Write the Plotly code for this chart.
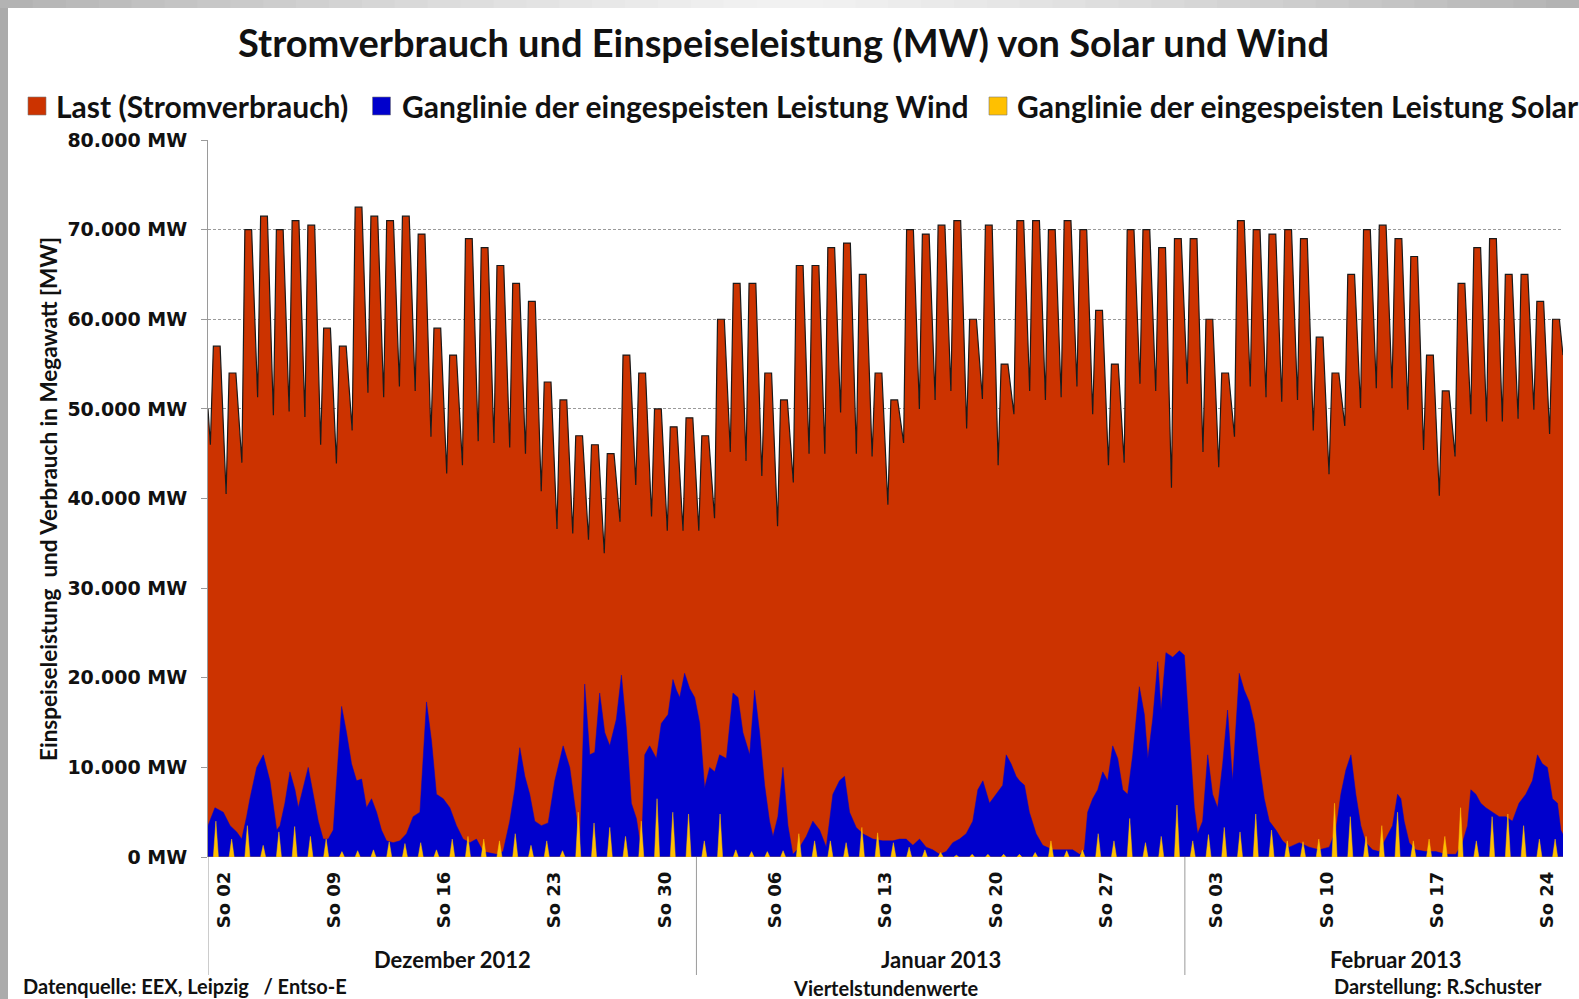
import plotly.graph_objects as go

# ---------------- data ----------------
# day index 0 = Sat 01.12.2012 00:00 ; plot runs to day 86 (25.02.2013 00:00)
load_start_mw = 50000
load_end_mw = 56000
# nightly minimum (approx. 03:30) per day
load_trough_mw = [
    46000, 40500, 44000, 51300, 49300, 49700, 49100, 46000, 43900, 47600,
    51800, 51300, 52500, 52000, 46900, 42800, 43700, 46400, 46200, 45700,
    45000, 40800, 36600, 36100, 35400, 33900, 37400, 41500, 38000, 36400,
    36400, 36400, 37800, 45200, 44200, 42500, 36900, 41800, 45000, 45000,
    49600, 45000, 44700, 39300, 46200, 50000, 51000, 52000, 47800, 51100,
    43700, 49400, 52000, 51000, 51300, 52500, 49400, 43700, 44000, 52800,
    52000, 41200, 52800, 45200, 43500, 46900, 52500, 51300, 50800, 51000,
    47600, 42700, 48100, 50100, 52300, 52300, 49900, 45400, 40300, 44700,
    49400, 48600, 48600, 48900, 49900, 47200,
]
# daytime level (morning to evening peak) per day
load_peak_mw = [
    57000, 54000, 70000, 71500, 70000, 71000, 70500, 59000, 57000, 72500,
    71500, 71000, 71500, 69500, 59000, 56000, 69000, 68000, 66000, 64000,
    62000, 53000, 51000, 47000, 46000, 45000, 56000, 54000, 50000, 48000,
    49000, 47000, 60000, 64000, 64000, 54000, 51000, 66000, 66000, 68000,
    68500, 65000, 54000, 51000, 70000, 69500, 70500, 71000, 60000, 70500,
    55000, 71000, 71000, 70000, 71000, 70000, 61000, 55000, 70000, 70000,
    68000, 69000, 69000, 60000, 54000, 71000, 70000, 69500, 70000, 69000,
    58000, 54000, 65000, 70000, 70500, 69000, 67000, 56000, 52000, 64000,
    68000, 69000, 65000, 65000, 62000, 60000,
]

# wind: points (day position, MW)
wind_day = [
    0.0, 0.44, 0.97, 1.40, 1.82, 2.14, 2.45, 2.66, 3.09, 3.51,
    3.93, 4.36, 4.57, 4.88, 5.20, 5.52, 5.73, 5.94, 6.36, 6.68,
    7.0, 7.31, 7.63, 7.95, 8.27, 8.48, 8.79, 9.11, 9.43, 9.75,
    10.06, 10.38, 10.70, 11.01, 11.33, 11.75, 12.18, 12.60, 13.02, 13.45,
    13.87, 14.19, 14.50, 14.93, 15.35, 15.77, 16.19, 16.62, 17.04,
    17.46, 18.31, 18.73, 19.15, 19.47, 19.79, 20.11, 20.42, 20.74, 21.16,
    21.59, 22.01, 22.33, 22.54, 22.96, 23.38, 23.59, 23.91, 24.23, 24.55,
    24.86, 25.18, 25.50, 25.92, 26.24, 26.55, 26.87, 27.19, 27.51, 27.72,
    28.03, 28.46, 28.77, 29.20, 29.51, 29.73, 29.94, 30.25, 30.57, 30.89,
    31.21, 31.52, 31.84, 32.16, 32.47, 32.90, 33.32, 33.64, 33.95, 34.38,
    34.69, 35.01, 35.33, 35.64, 35.86, 36.17, 36.49, 36.81, 37.12, 37.55,
    37.97, 38.39, 38.82, 39.24, 39.66, 40.08, 40.40, 40.72, 41.14, 41.56,
    42.2, 42.83, 43.47, 43.89, 44.31, 44.74, 45.16, 45.58, 46.0, 46.43,
    46.85, 47.27, 47.70, 48.12, 48.54, 48.86, 49.18, 49.6, 50.02, 50.44,
    50.66, 50.97, 51.29,
    51.50, 51.82, 52.13, 52.56, 52.98, 53.62, 54.25, 54.88, 55.31, 55.62,
    55.83, 56.15, 56.47, 56.79, 57.10, 57.42, 57.74, 58.06, 58.37, 58.69,
    59.11, 59.43, 59.65, 59.96, 60.28, 60.49, 60.80, 61.23, 61.65, 61.97,
    62.28, 62.60, 62.81, 63.13, 63.45, 63.76, 64.08, 64.40, 64.71, 65.03,
    65.45, 65.77, 66.09, 66.41, 66.72, 67.04, 67.36, 67.78, 68.20, 68.63,
    69.26, 69.89, 70.53, 71.16, 71.59, 71.90, 72.22, 72.54, 72.85, 73.17,
    73.49, 73.91, 74.33, 74.76, 75.18, 75.50, 75.71, 75.92, 76.24, 76.66,
    77.29, 77.93, 78.56, 79.20, 79.62, 79.94, 80.15, 80.47, 80.78, 81.10,
    81.52, 81.95, 82.37, 82.79, 83.21, 83.64, 84.06, 84.38, 84.69, 85.01,
    85.33, 85.65, 85.86, 86.0,
]
wind_mw = [
    3500, 5500, 5000, 3500, 2800, 2000, 4500, 6500, 10000, 11400,
    8500, 3000, 3500, 6000, 9500, 7500, 5500, 7000, 10000, 7000,
    4000, 2000, 2000, 3000, 11000, 16800, 13900, 10400, 8500, 8700,
    5500, 6500, 5000, 3000, 1800, 1600, 1800, 2600, 4500, 5000,
    17300, 12900, 7000, 6500, 5500, 3500, 2000, 1600, 2000,
    600, 300, 600, 4000, 7500, 12200, 9000, 7000, 4000, 3500,
    3800, 8500, 11000, 12400, 10000, 4500, 300, 19300, 11400, 11700,
    18300, 13900, 12400, 15400, 20300, 14400, 6000, 4300, 600, 11400,
    12400, 11000, 14900, 15900, 19800, 18600, 17800, 20500, 18800, 17800,
    14900, 7700, 10000, 9500, 11400, 11000, 18300, 17800, 13900, 11400,
    18600, 13900, 8000, 4000, 2300, 4500, 10000, 3500, 300, 1100,
    2300, 4000, 3000, 1100, 7000, 8500, 9000, 5000, 3300, 2600,
    2000, 1800, 1800, 2000, 2000, 1300, 2000, 1100, 800, 300,
    600, 1600, 2000, 2600, 4000, 7500, 8500, 6000, 7000, 8000,
    11400, 10400, 9000,
    8500, 8000, 5000, 2600, 1300, 800, 800, 800, 300, 800,
    5000, 6500, 7500, 9500, 8500, 12400, 11000, 7500, 7000, 11400,
    19000, 15900, 11000, 15400, 21800, 16400, 22800, 22300, 23000, 22500,
    13900, 5500, 2600, 4000, 11400, 7000, 5500, 10400, 16400, 8500,
    20500, 18600, 17300, 14900, 10400, 6500, 4000, 3000, 1800, 1100,
    1600, 1100, 800, 1100, 3000, 7000, 9700, 11400, 7000, 3500,
    1600, 800, 600, 2000, 3500, 7000, 6500, 4000, 1600, 800,
    600, 600, 300, 300, 1600, 3500, 7500, 7000, 6000, 5500,
    5000, 4500, 4500, 4000, 6000, 7000, 8500, 11400, 10400, 10000,
    6500, 6000, 3000, 2500,
]

# solar: midday maximum per day
solar_peak_mw = [
    4000, 2000, 3500, 1300, 2800, 3400, 2300, 2000, 600, 700,
    800, 1700, 1500, 1600, 800, 2000, 2300,
    2000, 1800, 2600, 1300, 1800, 700, 5000, 3800, 3300, 2300,
    4000, 6500, 5000, 4800, 1800, 4800, 800,
    600, 600, 700, 2600, 1800, 1800, 1600, 3300, 2700, 1600,
    1100, 800, 500, 200, 300, 300, 300,
    300, 500, 1800, 700, 800, 2600, 1800, 4300, 1600, 2300,
    5800, 1800, 2500, 3300, 2800, 4800, 3000, 1800,
    1700, 2000, 6000, 4500, 2300, 3500, 5000, 1800, 2000, 2300,
    5500, 1800, 4500, 4800, 3500, 2000, 2000,
]

sunday_day = [1, 8, 15, 22, 29, 36, 43, 50, 57, 64, 71, 78, 85]
sunday_labels = ["So 02", "So 09", "So 16", "So 23", "So 30", "So 06", "So 13",
                 "So 20", "So 27", "So 03", "So 10", "So 17", "So 24"]
month_labels = ["Dezember 2012", "Januar 2013", "Februar 2013"]
month_center_day = [15.5, 46.5, 75.4]
month_border_day = [0, 31, 62]

series_names = ["Last (Stromverbrauch)",
                "Ganglinie der eingespeisten Leistung Wind",
                "Ganglinie der eingespeisten Leistung Solar"]
series_colors = ["#CC3300", "#0000CC", "#FFC000"]

# ---------------- build curve points from the daily readings ----------------
load_x, load_y = [0.0], [load_start_mw]
for d, (lo, hi) in enumerate(zip(load_trough_mw, load_peak_mw)):
    load_x += [d + 0.15, d + 0.34, d + 0.77]
    load_y += [lo, hi, hi]
load_x.append(86.0)
load_y.append(load_end_mw)

solar_x, solar_y = [0.0], [0]
for d, p in enumerate(solar_peak_mw):
    solar_x += [d + 0.34, d + 0.5, d + 0.66]
    solar_y += [0, p, 0]
solar_x.append(86.0)
solar_y.append(0)

# ---------------- figure ----------------
W, H = 1579, 999
L, R, T, B = 208, 16, 140, 142
PW, PH = W - L - R, H - T - B


def px(x):
    return (x - L) / PW


def py(y):
    return (H - B - y) / PH


TXT = "Lato, 'Open Sans', sans-serif"
TICK = "'DejaVu Sans', Verdana, sans-serif"

fig = go.Figure()
fig.add_trace(go.Scatter(x=load_x, y=load_y, mode="lines", fill="tozeroy",
                         fillcolor=series_colors[0],
                         line=dict(color="#1a1a1a", width=1.2),
                         name=series_names[0], hoverinfo="skip"))
fig.add_trace(go.Scatter(x=wind_day, y=wind_mw, mode="lines", fill="tozeroy",
                         fillcolor=series_colors[1],
                         line=dict(color=series_colors[1], width=0.5),
                         name=series_names[1], hoverinfo="skip"))
fig.add_trace(go.Scatter(x=solar_x, y=solar_y, mode="lines", fill="tozeroy",
                         fillcolor=series_colors[2],
                         line=dict(color=series_colors[2], width=0.5),
                         name=series_names[2], hoverinfo="skip"))

shapes = []
annotations = []

# title
annotations.append(dict(text="<b>Stromverbrauch und Einspeiseleistung (MW) von Solar und Wind</b>",
                        xref="paper", yref="paper", x=px(783), y=py(42),
                        xanchor="center", yanchor="middle", showarrow=False,
                        font=dict(family=TXT, size=38, color="#111")))

# custom legend
leg_sq_x = [28, 372.5, 989]
leg_tx_x = [54, 399.5, 1015]
for sx, tx, name, col in zip(leg_sq_x, leg_tx_x, series_names, series_colors):
    shapes.append(dict(type="rect", xref="paper", yref="paper",
                       x0=px(sx), x1=px(sx + 18), y0=py(97), y1=py(115),
                       fillcolor=col, line=dict(color="#7a7a7a", width=0.6)))
    annotations.append(dict(text="<b>" + name + "</b>", xref="paper", yref="paper",
                            x=px(tx), y=py(106), xanchor="left", yanchor="middle",
                            showarrow=False,
                            font=dict(family=TXT, size=30, color="#111")))

# y-axis title
annotations.append(dict(text="<b>Einspeiseleistung\u00a0 und Verbrauch in Megawatt [MW]</b>",
                        xref="paper", yref="paper", x=px(49), y=py(499),
                        xanchor="center", yanchor="middle", textangle=-90,
                        showarrow=False, font=dict(family=TXT, size=22.5, color="#111")))

# month separators and labels
for bd in month_border_day:
    shapes.append(dict(type="line", xref="x", yref="paper", x0=bd, x1=bd,
                       y0=0, y1=py(975), line=dict(color="#9a9a9a", width=1)))
for lab, cd in zip(month_labels, month_center_day):
    annotations.append(dict(text="<b>" + lab + "</b>", xref="x", yref="paper",
                            x=cd, y=py(959), xanchor="center", yanchor="middle",
                            showarrow=False, font=dict(family=TXT, size=22, color="#111")))

# footer texts
annotations.append(dict(text="<b>Datenquelle: EEX, Leipzig\u00a0 \u00a0/ Entso-E</b>",
                        xref="paper", yref="paper", x=px(21), y=py(986),
                        xanchor="left", yanchor="middle", showarrow=False,
                        font=dict(family=TXT, size=20, color="#111")))
annotations.append(dict(text="<b>Viertelstundenwerte</b>",
                        xref="paper", yref="paper", x=px(886), y=py(988),
                        xanchor="center", yanchor="middle", showarrow=False,
                        font=dict(family=TXT, size=20, color="#111")))
annotations.append(dict(text="<b>Darstellung: R.Schuster</b>",
                        xref="paper", yref="paper", x=px(1544), y=py(986),
                        xanchor="right", yanchor="middle", showarrow=False,
                        font=dict(family=TXT, size=20, color="#111")))

# grey slide frame (left strip and graded top strip)
shapes.append(dict(type="rect", xref="paper", yref="paper", layer="above",
                   x0=px(0), x1=px(8), y0=py(999), y1=py(0),
                   fillcolor="#ababab", line=dict(width=0)))
NSEG = 48
for i in range(NSEG):
    t = (i + 0.5) / NSEG
    g = int(0xb2 + (0xf2 - 0xb2) * (1 - abs(2 * t - 1) ** 1.3))
    col = "#%02x%02x%02x" % (g, g, g)
    shapes.append(dict(type="rect", xref="paper", yref="paper", layer="above",
                       x0=px(i * W / NSEG), x1=px((i + 1) * W / NSEG + 1),
                       y0=py(8), y1=py(0), fillcolor=col, line=dict(width=0)))

fig.update_layout(
    width=W, height=H,
    margin=dict(l=L, r=R, t=T, b=B, autoexpand=False),
    paper_bgcolor="white", plot_bgcolor="white",
    showlegend=False,
    separators=",.",
    shapes=shapes, annotations=annotations,
    xaxis=dict(range=[0, 86], showgrid=False, zeroline=False, showline=False,
               tickmode="array", tickvals=sunday_day, ticktext=sunday_labels,
               tickangle=-90, ticks="", ticklabelstandoff=10,
               tickfont=dict(family=TICK, size=18, color="#111", weight="bold")),
    yaxis=dict(range=[0, 80000], dtick=10000, tick0=0, tickformat=",d",
               ticksuffix=" MW", showgrid=True, gridcolor="#9a9a9a",
               griddash="3px,2px", gridwidth=1, zeroline=False,
               showline=True, linecolor="#9a9a9a", linewidth=1,
               ticks="outside", ticklen=6, tickcolor="#9a9a9a",
               ticklabelstandoff=10,
               tickfont=dict(family=TICK, size=19, color="#111", weight="bold")),
)

fig.write_html("out.html", config={"displayModeBar": False},
               post_script="document.body.style.margin='0px';")
